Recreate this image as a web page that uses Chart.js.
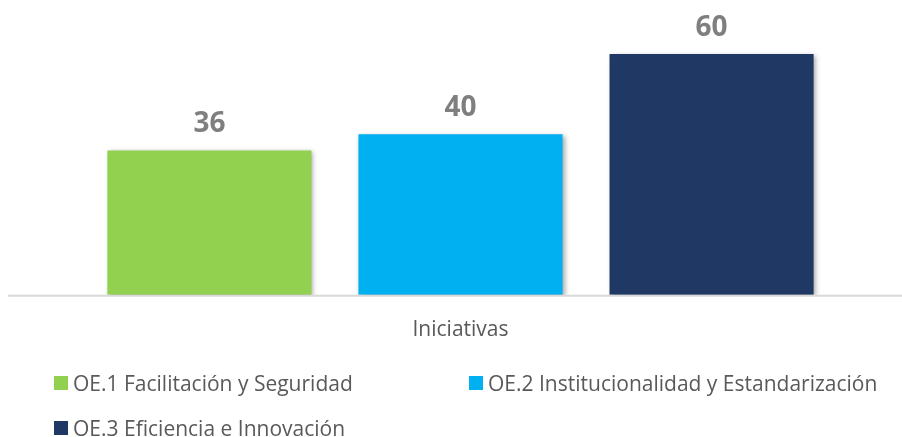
<!DOCTYPE html>
<html>
<head>
<meta charset="utf-8">
<script src="https://cdn.jsdelivr.net/npm/chart.js@4.4.1/dist/chart.umd.min.js"></script>
<style>
  html, body { margin: 0; padding: 0; background: #ffffff; }
  #wrap { position: relative; width: 902px; height: 437px; overflow: hidden; }
  #c { position: absolute; left: 0; top: 0; }
  .lg { position: absolute; display: flex; align-items: center; font-family: "Open Sans", sans-serif; font-size: 21px; color: #595959; white-space: nowrap; transform: translateY(-50%); }
  .lg i { display: inline-block; width: 14px; height: 14px; margin-right: 5px; flex: none; }
</style>
</head>
<body>
<div id="wrap">
  <canvas id="c" width="902" height="437"></canvas>
</div>
<script>
const categories = ["Iniciativas"];
const seriesNames = ["OE.1 Facilitación y Seguridad", "OE.2 Institucionalidad y Estandarización", "OE.3 Eficiencia e Innovación"];
const oe1Values = [36];
const oe2Values = [40];
const oe3Values = [60];
const seriesColors = ["#92D050", "#00B0F0", "#203864"];

const seriesValues = [oe1Values, oe2Values, oe3Values];

const shadowPlugin = {
  id: 'barShadow',
  beforeDatasetDraw(chart) {
    const ctx = chart.ctx;
    ctx.save();
    ctx.shadowColor = 'rgba(0,0,0,0.35)';
    ctx.shadowBlur = 5;
    ctx.shadowOffsetX = 2;
    ctx.shadowOffsetY = 2;
  },
  afterDatasetDraw(chart) {
    chart.ctx.restore();
  }
};

const baseLine = {
  id: 'baseLine',
  beforeDatasetsDraw(chart) {
    const ctx = chart.ctx;
    const y = chart.chartArea.bottom;
    ctx.save();
    ctx.strokeStyle = '#D9D9D9';
    ctx.lineWidth = 2;
    ctx.beginPath();
    ctx.moveTo(8, y + 1);
    ctx.lineTo(chart.width, y + 1);
    ctx.stroke();
    ctx.restore();
  }
};

const valueLabels = {
  id: 'valueLabels',
  afterDatasetsDraw(chart) {
    const ctx = chart.ctx;
    ctx.save();
    ctx.font = 'bold 28px "Open Sans", sans-serif';
    ctx.fillStyle = '#7F7F7F';
    ctx.textAlign = 'center';
    ctx.textBaseline = 'middle';
    chart.data.datasets.forEach((ds, di) => {
      const meta = chart.getDatasetMeta(di);
      meta.data.forEach((bar, i) => {
        ctx.fillText(String(ds.data[i]), bar.x, bar.y - 26);
      });
    });
    ctx.restore();
  }
};

const chart = new Chart(document.getElementById('c'), {
  type: 'bar',
  data: {
    labels: categories,
    datasets: seriesNames.map((name, i) => ({
      label: name,
      data: seriesValues[i],
      backgroundColor: seriesColors[i],
      borderWidth: 0,
      categoryPercentage: 0.853,
      barPercentage: 0.813
    }))
  },
  options: {
    responsive: false,
    animation: false,
    devicePixelRatio: 1,
    layout: { padding: { left: 19, right: 0, top: 14, bottom: 71 } },
    plugins: {
      legend: { display: false },
      tooltip: { enabled: false }
    },
    scales: {
      x: {
        grid: { display: false, drawTicks: false },
        border: { display: false },
        ticks: { color: '#595959', font: { family: '"Open Sans", sans-serif', size: 21 }, padding: 23 }
      },
      y: {
        display: false,
        min: 0,
        max: 70
      }
    }
  },
  plugins: [baseLine, shadowPlugin, valueLabels]
});

// HTML legend built from the chart's datasets
const wrap = document.getElementById('wrap');
const colX = [54, 469];
const rowY = [383, 428];
chart.data.datasets.forEach((ds, i) => {
  const d = document.createElement('div');
  d.className = 'lg';
  d.style.left = colX[i % 2] + 'px';
  d.style.top = rowY[Math.floor(i / 2)] + 'px';
  const b = document.createElement('i');
  b.style.background = ds.backgroundColor;
  d.appendChild(b);
  d.appendChild(document.createTextNode(ds.label));
  wrap.appendChild(d);
});
</script>
</body>
</html>
